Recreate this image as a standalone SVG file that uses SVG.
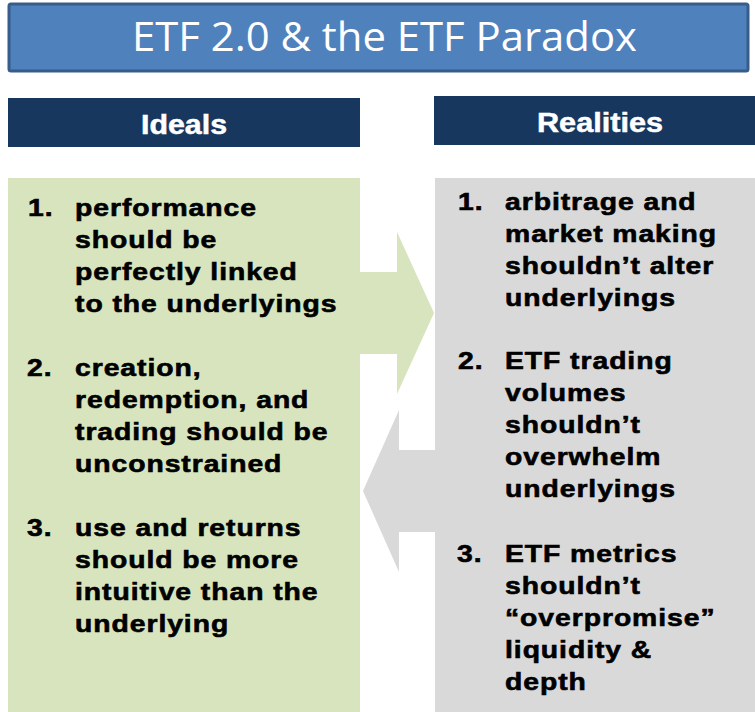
<svg xmlns="http://www.w3.org/2000/svg" width="755" height="712" viewBox="0 0 755 712">
  <style>
    .title { font-family: "Open Sans", "Noto Sans", sans-serif; font-size: 40px; fill: #ffffff; }
    .head { font-family: "Liberation Sans", Arial, sans-serif; font-weight: bold; font-size: 27px; fill: #ffffff; stroke: #ffffff; stroke-width: 0.5px; }
    .body { font-family: "Liberation Sans", Arial, sans-serif; font-weight: bold; font-size: 24px; fill: #000000; stroke: #000000; stroke-width: 0.6px; letter-spacing: 0.8px; }
  </style>
  <rect width="755" height="712" fill="#ffffff"/>

  <!-- Title banner -->
  <g id="title">
    <rect x="9" y="4" width="739" height="67" rx="2" fill="#4f81bd" stroke="#385d8a" stroke-width="3"/>
    <text class="title" x="132" y="51" textLength="505" lengthAdjust="spacingAndGlyphs">ETF 2.0 &amp; the ETF Paradox</text>
  </g>

  <!-- Column headers -->
  <g id="ideals-header">
    <rect x="8" y="98" width="352" height="49" fill="#17375e"/>
    <text class="head" x="141" y="134" textLength="86" lengthAdjust="spacingAndGlyphs">Ideals</text>
  </g>
  <g id="realities-header">
    <rect x="434" y="96" width="321" height="49" fill="#17375e"/>
    <text class="head" x="537" y="132" textLength="126" lengthAdjust="spacingAndGlyphs">Realities</text>
  </g>

  <!-- Panels with their arrows -->
  <g id="ideals-panel">
    <rect x="8" y="178" width="352" height="534" fill="#d7e4bd"/>
    <polygon points="359,272 397,272 397,232 434,313 397,394 397,354 359,354" fill="#d7e4bd"/>
  </g>
  <g id="realities-panel">
    <rect x="435" y="178" width="320" height="534" fill="#d9d9d9"/>
    <polygon points="436,450 399,450 399,410 363,491 399,572 399,532 436,532" fill="#d9d9d9"/>
  </g>

  <!-- Ideals list (glyphs widened horizontally) -->
  <g id="ideals-text" class="body" transform="scale(1.18 1)">
    <text x="23.7" y="216">1.</text>
    <text x="63.6" y="216">performance</text>
    <text x="63.6" y="248">should be</text>
    <text x="63.6" y="280">perfectly linked</text>
    <text x="63.6" y="312">to the underlyings</text>

    <text x="23" y="376">2.</text>
    <text x="63.6" y="376">creation,</text>
    <text x="63.6" y="408">redemption, and</text>
    <text x="63.6" y="440">trading should be</text>
    <text x="63.6" y="472">unconstrained</text>

    <text x="23" y="536">3.</text>
    <text x="63.6" y="536">use and returns</text>
    <text x="63.6" y="568">should be more</text>
    <text x="63.6" y="600">intuitive than the</text>
    <text x="63.6" y="632">underlying</text>
  </g>

  <!-- Realities list -->
  <g id="realities-text" class="body" transform="scale(1.18 1)">
    <text x="388.1" y="210">1.</text>
    <text x="428" y="210">arbitrage and</text>
    <text x="428" y="242">market making</text>
    <text x="428" y="274">shouldn’t alter</text>
    <text x="428" y="306">underlyings</text>

    <text x="388.1" y="369">2.</text>
    <text x="428" y="369">ETF trading</text>
    <text x="428" y="401">volumes</text>
    <text x="428" y="433">shouldn’t</text>
    <text x="428" y="465">overwhelm</text>
    <text x="428" y="497">underlyings</text>

    <text x="387.3" y="562">3.</text>
    <text x="428" y="562">ETF metrics</text>
    <text x="428" y="594">shouldn’t</text>
    <text x="428" y="626">“overpromise”</text>
    <text x="428" y="658">liquidity &amp;</text>
    <text x="428" y="690">depth</text>
  </g>
</svg>
